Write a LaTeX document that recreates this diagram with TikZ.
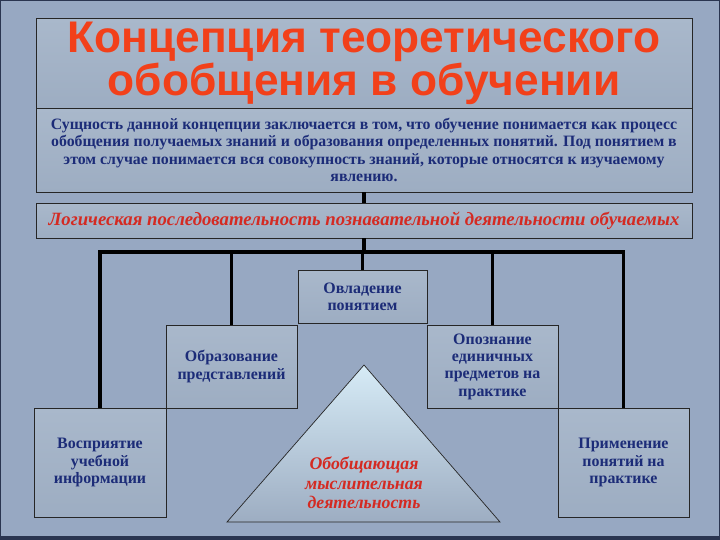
\documentclass[tikz,border=0pt]{standalone}
\usepackage{fontspec}
\setmainfont{Liberation Serif}
\newfontfamily\titlefont{Liberation Sans}
\definecolor{fondo}{HTML}{97A8C2}
\definecolor{marco}{HTML}{2A3550}
\definecolor{tinta}{HTML}{1C2C78}
\definecolor{rojo}{HTML}{D42A22}
\definecolor{titulo}{HTML}{F2401A}
\definecolor{arriba}{HTML}{A9B8CB}
\definecolor{medio}{HTML}{D6EBF6}
\definecolor{abajo}{HTML}{9DADC2}
\tikzset{
  caja/.style={draw=black!85, line width=0.6pt, top color=arriba, middle color=medio, bottom color=abajo, align=center, inner sep=1pt},
  texto/.style={text=tinta, font=\bfseries\fontsize{13.6}{14.8}\selectfont},
  conector/.style={line width=2.6pt, black}
}
\begin{document}
\begin{tikzpicture}[x=0.3mm, y=-0.3mm]
% фон слайда
\fill[fondo] (0,0) rectangle (720,540);
\useasboundingbox (0,0) rectangle (720,540);
\draw[marco, line width=1.2pt] (0.5,0.5) rectangle (719.5,539.5);
\fill[marco] (0,536) rectangle (720,540);

% заголовок и пояснение
\node[caja, minimum width=196.8mm, minimum height=27mm, text=titulo, font=\titlefont\bfseries\fontsize{37.8}{35}\selectfont] (titulo) at (364,63) {Концепция теоретического\\обобщения в обучении};
\node[caja, texto, minimum width=196.8mm, minimum height=25.2mm, font=\bfseries\fontsize{13.5}{14.6}\selectfont] (suть) at (364,150) {Сущность данной концепции заключается в том, что обучение понимается как процесс\\обобщения получаемых знаний и образования определенных понятий. Под понятием в\\этом случае понимается вся совокупность знаний, которые относятся к изучаемому\\явлению.};
\node[caja, minimum width=196.8mm, minimum height=10.5mm, text=rojo, font=\bfseries\itshape\fontsize{16}{17}\selectfont] (logica) at (364,220.5) {Логическая последовательность познавательной деятельности обучаемых};

% этапы
\node[caja, texto, minimum width=38.7mm, minimum height=15.9mm] (ovlad) at (362.5,296.5) {Овладение\\понятием};
\node[caja, texto, minimum width=39.3mm, minimum height=24.9mm] (obraz) at (231.5,366.5) {Образование\\представлений};
\node[caja, texto, minimum width=39.3mm, minimum height=24.9mm] (opozn) at (492.5,366.5) {Опознание\\единичных\\предметов на\\практике};
\node[caja, texto, minimum width=39.6mm, minimum height=32.7mm] (vosp) at (100,462.5) {Восприятие\\учебной\\информации};
\node[caja, texto, minimum width=39.3mm, minimum height=32.7mm] (prim) at (623.5,462.5) {Применение\\понятий на\\практике};

% треугольник
\shade[top color=medio, bottom color=abajo, draw=black!85, line width=0.6pt] (227,522) -- (364,365) -- (500,522) -- cycle;
\node[text=rojo, align=center, font=\bfseries\itshape\fontsize{15.2}{16.8}\selectfont] (tri) at (364,483) {Обобщающая\\мыслительная\\деятельность};

% линии
\coordinate (shina) at (364,252);
\draw[conector] (suть.south) -- (logica.north);
\draw[conector] (logica.south) -- (logica.south |- shina);
\draw[conector] (vosp.north) -- (vosp.north |- shina) -- (prim.north |- shina) -- (prim.north);
\foreach \n in {obraz, ovlad, opozn}
  \draw[conector] (\n.north) -- (\n.north |- shina);
\end{tikzpicture}
\end{document}
